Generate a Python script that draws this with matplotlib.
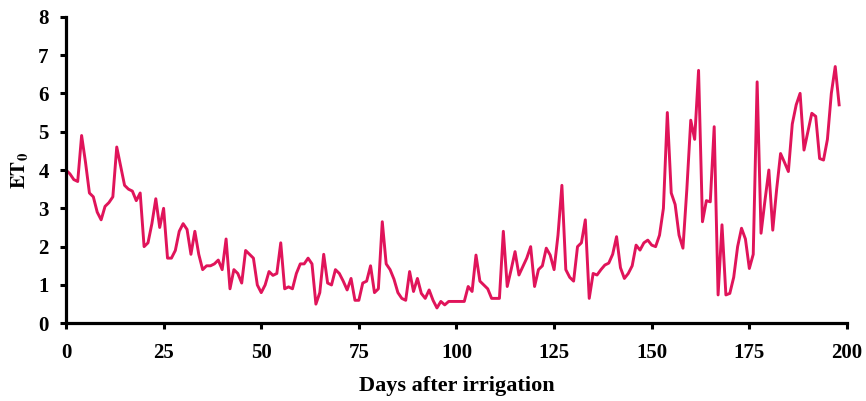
import matplotlib
matplotlib.use("Agg")
import matplotlib.pyplot as plt
import numpy as np

# daily ET0 values (day 0 .. 198)
et0 = [
    4.0, 3.9, 3.75, 3.7, 4.9, 4.2, 3.4, 3.3, 2.9, 2.7,
    3.05, 3.15, 3.3, 4.6, 4.1, 3.6, 3.5, 3.45, 3.2, 3.4,
    2.0, 2.1, 2.6, 3.25, 2.5, 3.0, 1.7, 1.7, 1.9, 2.4,
    2.6, 2.45, 1.8, 2.4, 1.8, 1.4, 1.5, 1.5, 1.55, 1.65,
    1.4, 2.2, 0.9, 1.4, 1.3, 1.05, 1.9, 1.8, 1.7, 1.0,
    0.8, 1.0, 1.35, 1.25, 1.3, 2.1, 0.9, 0.95, 0.9, 1.3,
    1.55, 1.55, 1.7, 1.55, 0.5, 0.8, 1.8, 1.05, 1.0, 1.4,
    1.3, 1.1, 0.87, 1.17, 0.6, 0.6, 1.05, 1.1, 1.5, 0.8,
    0.9, 2.65, 1.55, 1.4, 1.15, 0.8, 0.65, 0.6, 1.35, 0.83,
    1.17, 0.78, 0.65, 0.87, 0.6, 0.4, 0.57, 0.48, 0.57, 0.57,
    0.57, 0.57, 0.57, 0.96, 0.83, 1.78, 1.1, 1.0, 0.9, 0.65,
    0.65, 0.65, 2.4, 0.96, 1.4, 1.87, 1.26, 1.48, 1.7, 2.0,
    0.96, 1.4, 1.5, 1.96, 1.78, 1.4, 2.3, 3.6, 1.4, 1.2,
    1.1, 2.0, 2.1, 2.7, 0.65, 1.3, 1.26, 1.4, 1.52, 1.57,
    1.8, 2.26, 1.45, 1.17, 1.3, 1.5, 2.04, 1.91, 2.1, 2.17,
    2.04, 2.0, 2.3, 3.0, 5.5, 3.4, 3.1, 2.3, 1.96, 3.5,
    5.3, 4.8, 6.6, 2.65, 3.2, 3.17, 5.13, 0.74, 2.57, 0.74,
    0.78, 1.2, 2.0, 2.48, 2.2, 1.43, 1.8, 6.3, 2.35, 3.2,
    4.0, 2.43, 3.5, 4.43, 4.2, 3.96, 5.2, 5.7, 6.0, 4.52,
    5.0, 5.48, 5.4, 4.3, 4.26, 4.8, 6.0, 6.7, 5.7,
]
days = np.arange(len(et0))

x_ticks = [0, 25, 50, 75, 100, 125, 150, 175, 200]
y_ticks = [0, 1, 2, 3, 4, 5, 6, 7, 8]

plt.rcParams["font.family"] = ["Liberation Serif", "DejaVu Serif"]
plt.rcParams["font.weight"] = "bold"
plt.rcParams["mathtext.fontset"] = "stix"

fig = plt.figure(figsize=(8.66, 4.01), dpi=100)
ax = fig.add_axes([0.0762, 0.1938, 0.9018, 0.7645])

ax.plot(days, et0, color="#E0145A", linewidth=2.1, solid_joinstyle="round")

ax.set_xlim(0, 200)
ax.set_ylim(0, 8)
ax.set_xticks(x_ticks)
ax.set_yticks(y_ticks)

for s in ["top", "right"]:
    ax.spines[s].set_visible(False)
for s in ["left", "bottom"]:
    ax.spines[s].set_linewidth(2.3)

ax.tick_params(axis="both", direction="out", length=4.5, width=2.2, labelsize=15)
ax.tick_params(axis="x", pad=10)
ax.tick_params(axis="y", pad=8)
for lbl in ax.get_xticklabels() + ax.get_yticklabels():
    lbl.set_fontweight("bold")

ax.set_xlabel("Days after irrigation", fontsize=16, fontweight="bold", labelpad=9)
ax.set_ylabel(r"$\mathbf{ET}_\mathbf{0}$", fontsize=15, labelpad=6)

fig.savefig("out.png", dpi=100)
